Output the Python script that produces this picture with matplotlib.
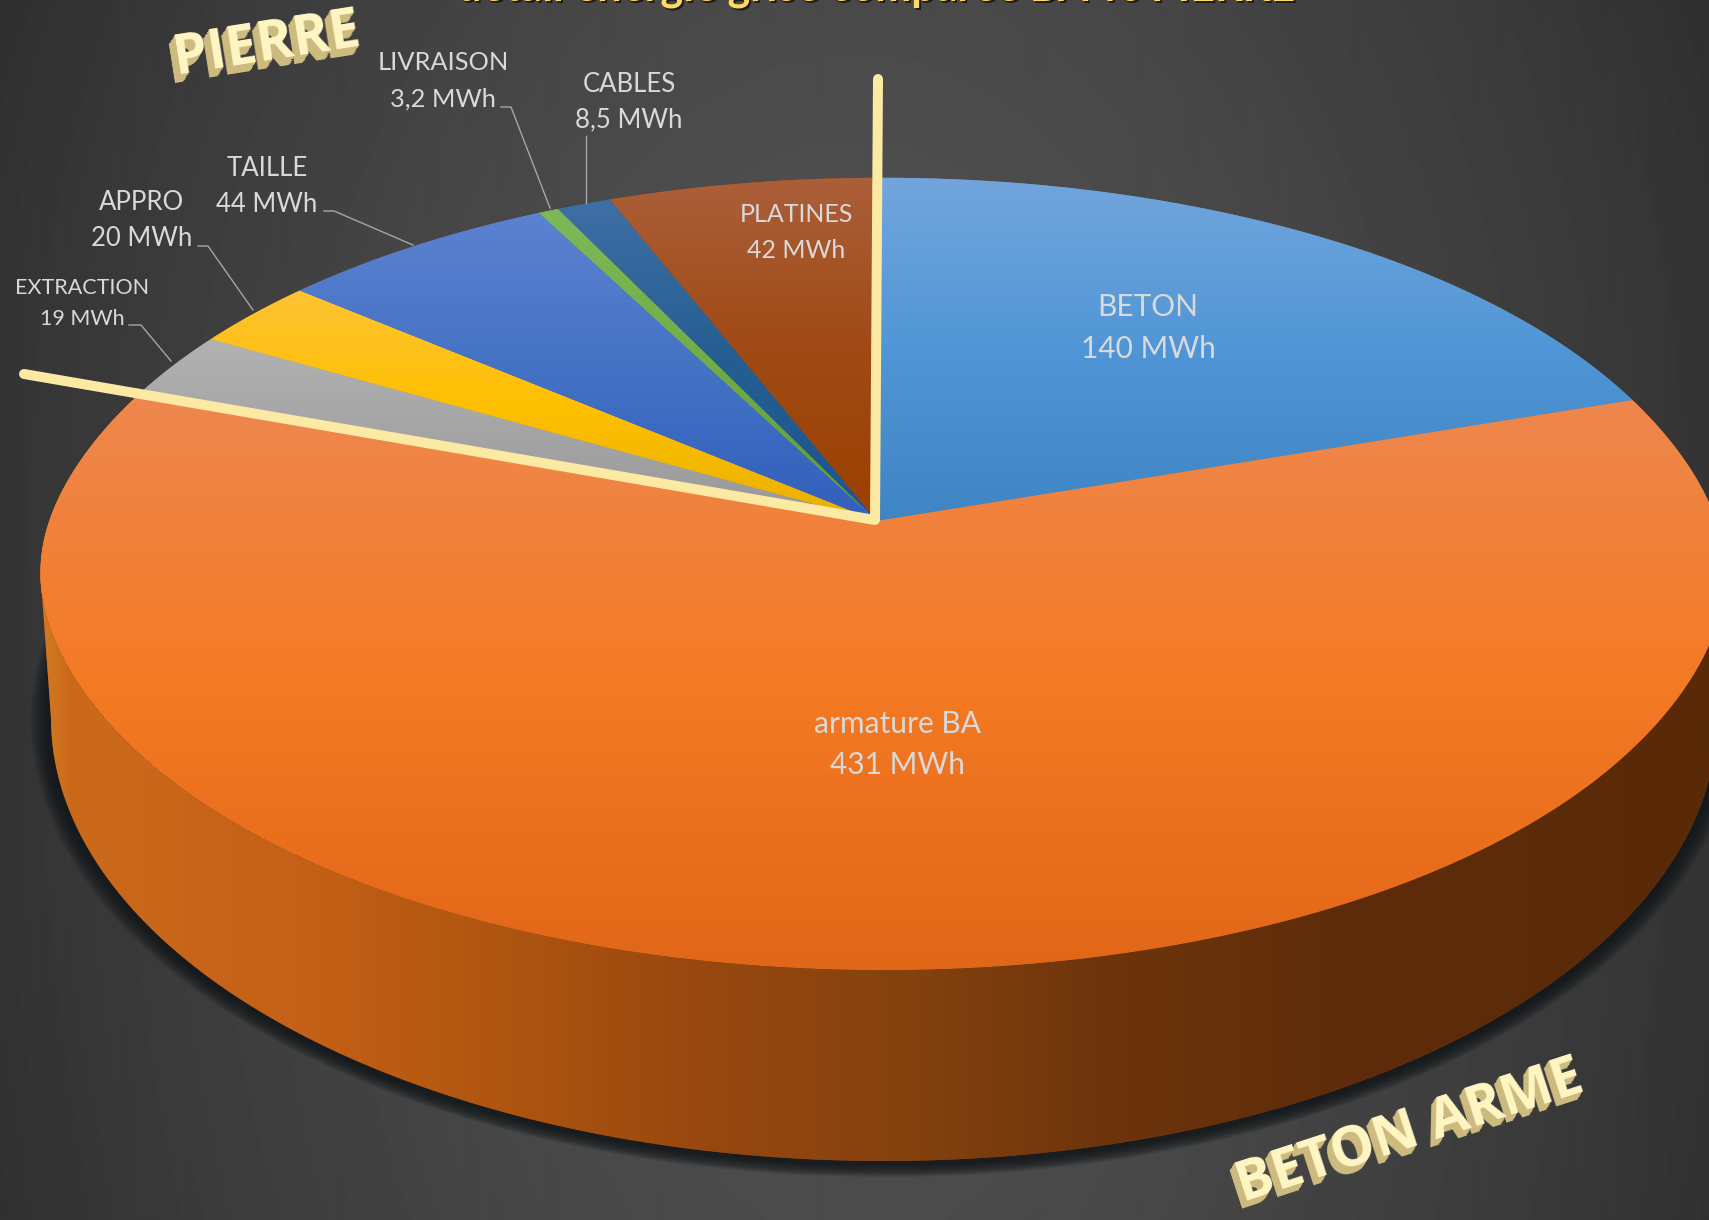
import numpy as np
import matplotlib
matplotlib.use("Agg")
import matplotlib.pyplot as plt
from matplotlib.colors import LinearSegmentedColormap
from matplotlib.patches import Polygon

# =========================================================
# Data
# =========================================================
labels = ["BETON", "armature BA", "EXTRACTION", "APPRO", "TAILLE",
          "LIVRAISON", "CABLES", "PLATINES"]
values = [140, 431, 19, 20, 44, 3.2, 8.5, 42]
value_labels = ["140 MWh", "431 MWh", "19 MWh", "20 MWh", "44 MWh",
                "3,2 MWh", "8,5 MWh", "42 MWh"]
slice_colors = [
    ["#72a5dc", "#5096d6", "#3f85c4"],
    ["#ee8850", "#f47a24", "#e16718"],
    ["#b2b2b2", "#a5a5a5", "#989898"],
    ["#fcc335", "#ffc000", "#e8b000"],
    ["#5c82d0", "#4472c4", "#315fbc"],
    ["#7fb85a", "#70ad47", "#5e9a38"],
    ["#3f6fa5", "#255e91", "#1c5590"],
    ["#ab5f3a", "#a04a15", "#9a4000"],
]
title = "détail énergie grise comparée BA vs PIERRE"

# label centre x, y of first line, y of second line, font size
label_pos = [
    (1148, 307, 349, 21.5),
    (898, 724, 765, 21.5),
    (82, 288, 319, 15.5),
    (142, 202, 238, 18.5),
    (267, 168, 204, 18.5),
    (443, 63, 99, 18.3),
    (629, 84, 120, 18.5),
    (796, 215, 250, 18),
]
leaders = [
    [(129, 325), (141, 325), (171, 361)],
    [(198, 246), (208, 246), (253, 310)],
    [(324, 211), (334, 211), (413, 245)],
    [(501, 107), (511, 107), (550, 208)],
    [(586, 136), (586, 203)],
]

# =========================================================
# Geometry of the tilted disc
# =========================================================
PX, PY = 877, 521
A, B = 826, 389
K, M = 0.1334, -0.007
BULGE = 9

# lower rim of the wall
BX, BY, BA, BB = 884, 718, 833, 443

WALL_X = [0, 45, 70, 300, 420, 700, 900, 1100, 1350, 1709]
WALL_C = ["#d07820", "#d07820", "#cc6a1c", "#c46017", "#b85a12", "#98480f",
          "#85420f", "#6e350c", "#5e2c0a", "#5a2a08"]


def project(theta):
    u, v = np.sin(theta), np.cos(theta)
    w = 1 + K * v + M * u
    # the rim is a bit fuller at its far left and right than a true circle
    side = BULGE * u * np.exp(-((v + 0.13) / 0.3) ** 2)
    return PX + A * u / w + side, PY - B * v / w


def gradient(ax, poly, colors, zorder):
    cmap = LinearSegmentedColormap.from_list("g", colors)
    x0, x1 = poly[:, 0].min(), poly[:, 0].max()
    y0, y1 = poly[:, 1].min(), poly[:, 1].max()
    ax.fill(poly[:, 0], poly[:, 1], color=colors[1], lw=0, zorder=zorder)
    im = ax.imshow(np.linspace(0, 1, 256)[:, None], cmap=cmap, aspect="auto",
                   extent=(x0, x1, y1, y0), origin="upper", zorder=zorder,
                   interpolation="bilinear")
    im.set_clip_path(Polygon(poly, closed=True, transform=ax.transData))


def text3d(ax, x, y, s, size, rot, dx, dy):
    for i in range(8, 0, -1):
        ax.text(x + dx * i / 8, y + dy * i / 8, s, fontsize=size, rotation=rot,
                rotation_mode="anchor", ha="center", va="center",
                color="#cdbb80", fontweight="bold", family="Open Sans", zorder=20)
    ax.text(x, y, s, fontsize=size, rotation=rot, rotation_mode="anchor",
            ha="center", va="center", color="#fff6c4", fontweight="bold",
            family="Open Sans", zorder=21)


# =========================================================
# Figure
# =========================================================
plt.rcParams["font.family"] = "Lato"
fig = plt.figure(figsize=(17.09, 12.20), dpi=100)
ax = fig.add_axes([0, 0, 1, 1])
ax.set_xlim(0, 1709)
ax.set_ylim(1220, 0)
ax.set_autoscale_on(False)
ax.axis("off")

# background
yy, xx = np.mgrid[0:1220:2, 0:1709:2]
dy_scale = np.where(yy < 500, 1200, 2000)
dist = np.hypot((xx - 855) / 900, (yy - 500) / dy_scale)
shade = (82 - 32 * dist ** 1.5) / 255
ax.imshow(shade, cmap="gray", vmin=0, vmax=1, extent=(0, 1709, 1220, 0),
          origin="upper", aspect="auto", zorder=0, interpolation="bilinear")

# shadow under the wall
t = np.linspace(0, 2 * np.pi, 400)
for grow in np.linspace(20, 2, 12):
    ax.fill(BX + (BA + grow) * np.cos(t), BY + 2 + (BB + grow * 0.7) * np.sin(t),
            color="#12171a", alpha=0.14, lw=0, zorder=1)

# wall
t_low = np.linspace(np.pi, 0, 300)
top_x, top_y = project(np.linspace(0, 2 * np.pi, 720))
lo = np.column_stack([BX + BA * np.cos(t_low), BY + BB * np.sin(t_low)])
i_left, i_right = np.argmin(top_x), np.argmax(top_x)
upper_idx = np.r_[i_right:720, 0:i_left + 1]
hull = np.vstack([lo, np.column_stack([top_x[upper_idx], top_y[upper_idx]])])
wall_grid = np.linspace(0, 1709, 855)
wall_rgb = np.array([matplotlib.colors.to_rgb(c) for c in WALL_C])
wall_img = np.stack([np.interp(wall_grid, WALL_X, wall_rgb[:, i]) for i in range(3)], axis=1)[None, :, :]
ax.fill(hull[:, 0], hull[:, 1], color="#85420f", lw=0, zorder=2)
im = ax.imshow(wall_img, extent=(0, 1709, 1220, 0), aspect="auto", origin="upper",
               zorder=2, interpolation="bilinear")
im.set_clip_path(Polygon(hull, closed=True, transform=ax.transData))

# top of the pie, clockwise from 12 o'clock
angles = np.r_[0, np.cumsum(values)] / np.sum(values) * 2 * np.pi
for i, colors in enumerate(slice_colors):
    n = max(int((angles[i + 1] - angles[i]) * 120), 4)
    px, py = project(np.linspace(angles[i], angles[i + 1], n))
    poly = np.column_stack([np.r_[PX, px], np.r_[PY, py]])
    gradient(ax, poly, colors, 3 + i * 0.01)

# leader lines
for pts in leaders:
    pts = np.array(pts)
    ax.plot(pts[:, 0], pts[:, 1], color="#a6a6a6", lw=1.0, zorder=6)

# data labels
for name, val, (x, y1, y2, size) in zip(labels, value_labels, label_pos):
    ax.text(x, y1, name, ha="center", va="center", fontsize=size, color="#d9d9d9", zorder=7)
    ax.text(x, y2, val, ha="center", va="center", fontsize=size, color="#d9d9d9", zorder=7)

# split between the two materials
ax.plot([24, 875, 878], [374, 520, 79], color="#fce9a4", lw=7.2,
        solid_capstyle="round", solid_joinstyle="round", zorder=8)

# title, cut by the top edge of the image
ax.text(878, 2, title, ha="center", va="baseline", fontsize=31, color="#1e1e1e",
        fontweight="bold", zorder=9)
ax.text(876, 0, title, ha="center", va="baseline", fontsize=31, color="#ffd966",
        fontweight="bold", zorder=10)

text3d(ax, 267, 45, "PIERRE", 40, 9, -6, 9)
text3d(ax, 1410, 1133, "BETON ARME", 40, 18, -5, 8)

fig.savefig("out.png", dpi=100)
